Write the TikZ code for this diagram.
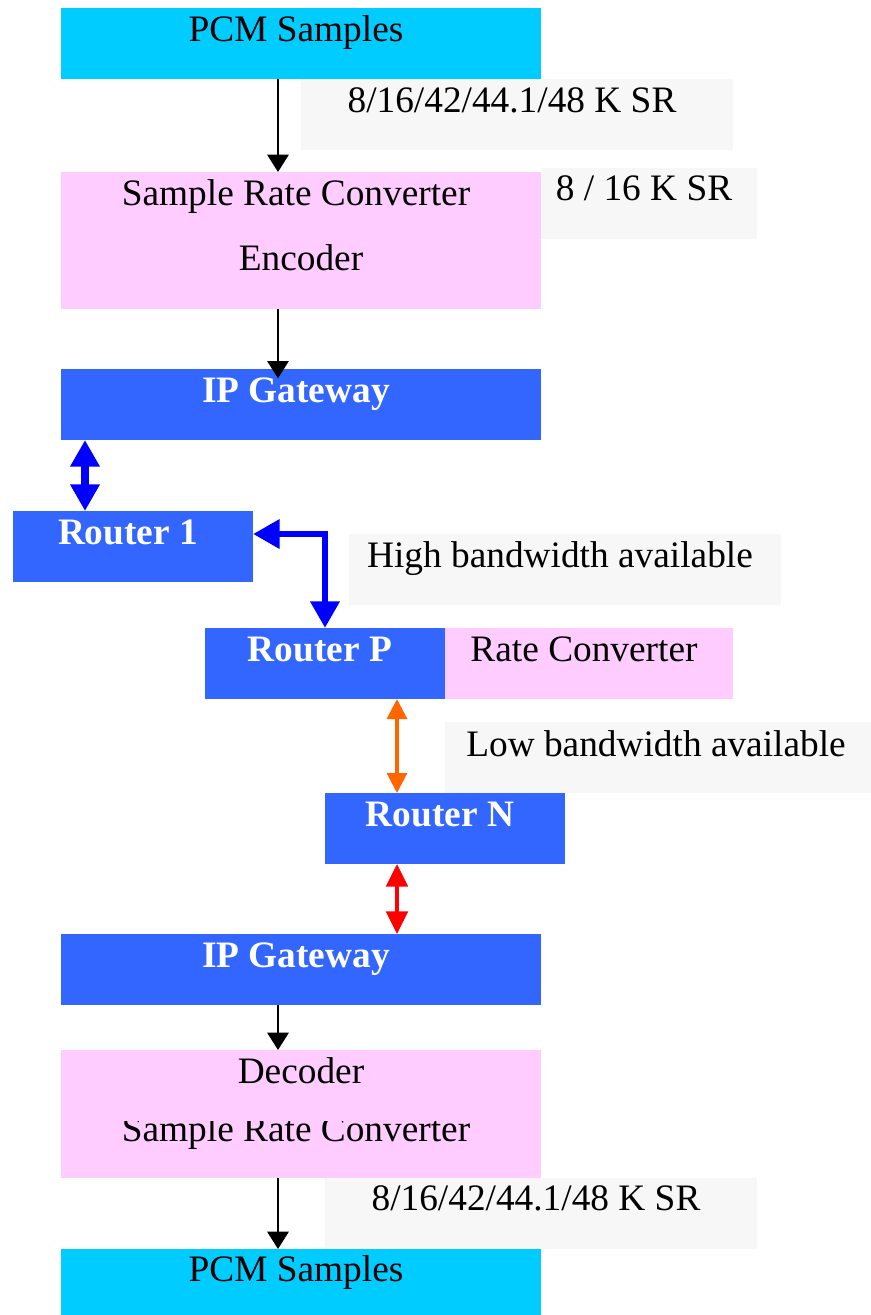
\documentclass[tikz,border=0pt]{standalone}
\usepackage{fontspec}
\setmainfont{Liberation Serif}
\usetikzlibrary{arrows.meta}
\definecolor{pcmc}{HTML}{00CCFF}
\definecolor{pinkc}{HTML}{FFCCFF}
\definecolor{netc}{HTML}{3366FF}
\definecolor{grayc}{HTML}{F7F7F7}
\definecolor{blueln}{HTML}{0000FF}
\definecolor{orangeln}{HTML}{FF6600}
\definecolor{redln}{HTML}{FF0000}
\begin{document}
\begin{tikzpicture}[x=0.75pt,y=-0.75pt,
  box/.style={draw=none,inner sep=0pt,outer sep=0pt,anchor=north west},
  txt/.style={anchor=base,inner sep=0pt,font=\fontsize{28}{34}\selectfont},
  btxt/.style={txt,text=white,font=\fontsize{28}{34}\selectfont\bfseries},
  blk/.style={line width=1.5pt,-{Triangle[width=16pt,length=13pt]}},
  bluearr/.style={line width=6pt,blueln,{Triangle[width=21pt,length=20pt]}-{Triangle[width=21pt,length=20pt]}},
  blueelb/.style={line width=5pt,blueln,{Triangle[width=21pt,length=20pt]}-{Triangle[width=21pt,length=20pt]}},
  orarr/.style={line width=2.3pt,orangeln,{Triangle[width=15pt,length=15pt]}-{Triangle[width=15pt,length=15pt]}},
  redarr/.style={line width=3pt,redln,{Triangle[width=16pt,length=17pt]}-{Triangle[width=16pt,length=17pt]}}]
\useasboundingbox (0,0) rectangle (871,1315);
% boxes
\node[box,fill=pcmc,minimum width=360pt,minimum height=53.25pt] (pcm1) at (61,8) {};
\node[box,fill=grayc,minimum width=324pt,minimum height=53.25pt] (lab1) at (301,79) {};
\node[box,fill=pinkc,minimum width=360pt,minimum height=102.75pt] (src) at (61,172) {};
\node[box,fill=grayc,minimum width=162pt,minimum height=53.25pt] (lab2) at (541,168) {};
\node[box,fill=netc,minimum width=360pt,minimum height=53.25pt] (gw1) at (61,369) {};
\node[box,fill=netc,minimum width=180pt,minimum height=53.25pt] (r1) at (13,511) {};
\node[box,fill=grayc,minimum width=324pt,minimum height=53.25pt] (lab3) at (349,534) {};
\node[box,fill=netc,minimum width=180pt,minimum height=53.25pt] (rp) at (205,628) {};
\node[box,fill=pinkc,minimum width=216pt,minimum height=53.25pt] (rc) at (445,628) {};
\node[box,fill=grayc,minimum width=319.5pt,minimum height=53.25pt] (lab4) at (445,722) {};
\node[box,fill=netc,minimum width=180pt,minimum height=53.25pt] (rn) at (325,793) {};
\node[box,fill=netc,minimum width=360pt,minimum height=53.25pt] (gw2) at (61,934) {};
\node[box,fill=pinkc,minimum width=360pt,minimum height=96pt] (dec) at (61,1050) {};
\node[box,fill=grayc,minimum width=324pt,minimum height=53.25pt] (lab5) at (325,1178) {};
\node[box,fill=pcmc,minimum width=360pt,minimum height=49.5pt] (pcm2) at (61,1249) {};
% texts
\node[txt] (t1) at (296,41) {PCM Samples};
\node[txt] (t2) at (512,112) {8/16/42/44.1/48 K SR};
\node[txt] (t3) at (296,205) {Sample Rate Converter};
\node[txt] (t4) at (301,270) {Encoder};
\node[txt] (t5) at (644,200) {8 / 16 K SR};
\node[btxt] (t6) at (296,402) {IP Gateway};
\node[btxt] (t7) at (128,544) {Router 1};
\node[txt] (t8) at (560,567) {High bandwidth available};
\node[btxt] (t9) at (320,661) {Router P};
\node[txt] (t10) at (584,661) {Rate Converter};
\node[txt] (t11) at (656,756) {Low bandwidth available};
\node[btxt] (t12) at (440,826) {Router N};
\node[btxt] (t13) at (296,967) {IP Gateway};
\node[txt] (t14) at (301,1083) {Decoder};
\begin{scope}
\clip (61,1121) rectangle (541,1178);
\node[txt] (t15) at (296,1141) {Sample Rate Converter};
\end{scope}
\node[txt] (t16) at (536,1210) {8/16/42/44.1/48 K SR};
\node[txt] (t17) at (296,1281) {PCM Samples};
% connectors
\coordinate (cx) at (278,0);
\coordinate (bx) at (85,0);
\coordinate (ex) at (325,0);
\coordinate (ey) at (0,534);
\coordinate (ox) at (397,0);
\draw[blk] (pcm1.south -| cx) -- (src.north -| cx);
\draw[blk,shorten >=-7pt] (src.south -| cx) -- (gw1.north -| cx);
\draw[bluearr] (gw1.south -| bx) -- (r1.north -| bx);
\draw[blueelb] (r1.east |- ey) -| (rp.north -| ex);
\draw[orarr] (rp.south -| ox) -- (rn.north -| ox);
\draw[redarr] (rn.south -| ox) -- (gw2.north -| ox);
\draw[blk] (gw2.south -| cx) -- (dec.north -| cx);
\draw[blk] (dec.south -| cx) -- (pcm2.north -| cx);
\end{tikzpicture}
\end{document}
